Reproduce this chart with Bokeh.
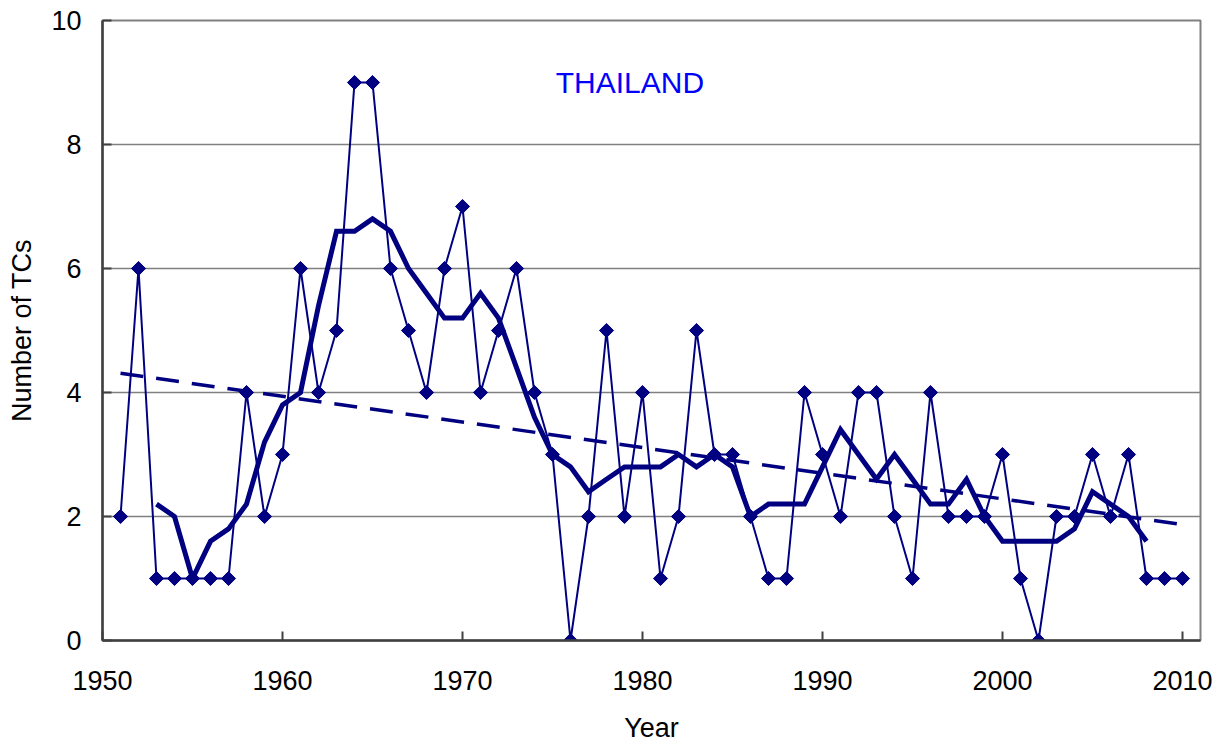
import math
from bokeh.plotting import figure
from bokeh.models import Range1d, Label, FixedTicker
from bokeh.embed import file_html
from bokeh.resources import INLINE

# ---- data ----
years = list(range(1951, 2011))
counts = [2, 6, 1, 1, 1, 1, 1, 4, 2, 3,
          6, 4, 5, 9, 9, 6, 5, 4, 6, 7,
          4, 5, 6, 4, 3, 0, 2, 5, 2, 4,
          1, 2, 5, 3, 3, 2, 1, 1, 4, 3,
          2, 4, 4, 2, 1, 4, 2, 2, 2, 3,
          1, 0, 2, 2, 3, 2, 3, 1, 1, 1]

ma_years = list(range(1953, 2009))
ma_values = [2.2, 2.0, 1.0, 1.6, 1.8, 2.2, 3.2, 3.8, 4.0, 5.4,
             6.6, 6.6, 6.8, 6.6, 6.0, 5.6, 5.2, 5.2, 5.6, 5.2,
             4.4, 3.6, 3.0, 2.8, 2.4, 2.6, 2.8, 2.8, 2.8, 3.0,
             2.8, 3.0, 2.8, 2.0, 2.2, 2.2, 2.2, 2.8, 3.4, 3.0,
             2.6, 3.0, 2.6, 2.2, 2.2, 2.6, 2.0, 1.6, 1.6, 1.6,
             1.6, 1.8, 2.4, 2.2, 2.0, 1.6]

trend_years = [1951, 2010]
trend_values = [4.31, 1.87]

x_ticks = [1950, 1960, 1970, 1980, 1990, 2000, 2010]
y_ticks = [0, 2, 4, 6, 8, 10]

title_text = "THAILAND"
x_label = "Year"
y_label = "Number of TCs"

# ---- styles ----
NAVY = "#000080"
FONT = "Liberation Sans"

p = figure(width=1222, height=745, output_backend="svg", toolbar_location=None,
           x_range=Range1d(1950, 2011), y_range=Range1d(0, 10),
           min_border_left=102, min_border_right=22, min_border_top=20,
           min_border_bottom=104)

p.background_fill_color = "white"
p.border_fill_color = "white"
p.outline_line_color = "#808080"
p.outline_line_width = 2

# grid
p.xgrid.grid_line_color = None
p.ygrid.grid_line_color = "#808080"
p.ygrid.grid_line_width = 1.3

# axes
p.xaxis.ticker = FixedTicker(ticks=x_ticks)
p.yaxis.ticker = FixedTicker(ticks=y_ticks)
for ax in (p.xaxis, p.yaxis):
    ax.axis_line_color = "#404040"
    ax.axis_line_width = 2.5
    ax.major_tick_line_color = "#404040"
    ax.major_tick_line_width = 2
    ax.major_tick_in = 9
    ax.major_tick_out = 0
    ax.minor_tick_line_color = None
    ax.major_label_text_font = FONT
    ax.major_label_text_font_size = "27px"
    ax.major_label_text_color = "black"
    ax.axis_label_text_font = FONT
    ax.axis_label_text_font_size = "27px"
    ax.axis_label_text_font_style = "normal"
    ax.axis_label_text_color = "black"

p.xaxis.axis_label = x_label
p.yaxis.axis_label = y_label
p.xaxis.major_label_standoff = 30
p.yaxis.major_label_standoff = 21
p.xaxis.axis_label_standoff = 20
p.yaxis.axis_label_standoff = 11

# raw series: thin line with diamond markers
p.line(years, counts, line_color=NAVY, line_width=2)
p.scatter(years, counts, marker="square", angle=math.pi / 4, size=10,
          fill_color=NAVY, line_color=NAVY)

# 5-year running mean
p.line(ma_years, ma_values, line_color=NAVY, line_width=5, line_join="miter")

# linear trend
p.line(trend_years, trend_values, line_color=NAVY, line_width=3.5,
       line_dash="23 13")

# in-chart title
p.add_layout(Label(x=1979.3, y=9.0, text=title_text, text_font=FONT,
                   text_font_size="30px", text_color="#0000FF",
                   text_align="center", text_baseline="middle"))

open("out.html", "w").write(file_html(p, INLINE))
